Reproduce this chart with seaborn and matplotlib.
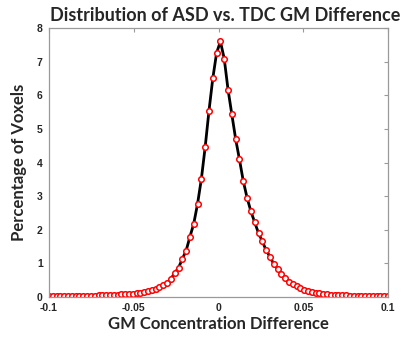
import numpy as np
import pandas as pd
import seaborn as sns
import matplotlib
matplotlib.use('Agg')
import matplotlib.pyplot as plt

#%% data: bin centres and percentage of voxels per bin
n_bins = 90
x_lo, x_hi = -0.1, 0.1
pct_left_tail = [0.02, 0.02, 0.02, 0.02, 0.02, 0.025, 0.025, 0.03, 0.03, 0.03,
                 0.035, 0.04, 0.04, 0.045, 0.05, 0.055, 0.06, 0.065, 0.07, 0.08,
                 0.085, 0.09, 0.10, 0.11, 0.13, 0.14, 0.17]
pct_rise = [0.20, 0.24, 0.29, 0.35, 0.42, 0.54, 0.71, 0.87, 1.13, 1.38,
            1.79, 2.18, 2.77, 3.51, 4.46, 5.54, 6.50, 7.26]
pct_fall = [7.60, 7.09, 6.17, 5.43, 4.70, 4.09, 3.45, 2.95, 2.55, 2.22,
            1.90, 1.66, 1.39, 1.20]
pct_right_tail = [0.98, 0.84, 0.69, 0.56, 0.46, 0.38, 0.32, 0.27, 0.22, 0.18,
                  0.15, 0.13, 0.11, 0.09, 0.08, 0.07, 0.06, 0.055, 0.05, 0.045,
                  0.04, 0.035, 0.03, 0.03, 0.025, 0.025, 0.02, 0.02, 0.02, 0.02,
                  0.02]

gm_diff = np.linspace(x_lo, x_hi, n_bins)
pct_voxels = pct_left_tail + pct_rise + pct_fall + pct_right_tail
df = pd.DataFrame({"gm_diff": gm_diff, "pct": pct_voxels})

#%% plot
sns.set_style("white")
plt.rcParams['font.family'] = ['Liberation Sans', 'DejaVu Sans']

fig = plt.figure(figsize=(4.03, 3.4), dpi=100)
ax = fig.add_axes([0.1216, 0.1265, 0.8412, 0.7911])

sns.lineplot(data=df, x="gm_diff", y="pct", ax=ax,
             color="black", linewidth=2,
             marker="o", markersize=4,
             markerfacecolor="white", markeredgecolor="red",
             markeredgewidth=1.1)

ax.set_xlim(-0.1, 0.1)
ax.set_ylim(0, 8)
ax.set_xticks([-0.1, -0.05, 0, 0.05, 0.1])
ax.set_xticklabels(["-0.1", "-0.05", "0", "0.05", "0.1"])
ax.set_yticks(range(0, 9))

for sp in ax.spines.values():
    sp.set_color("#9a9a9a")
    sp.set_linewidth(0.9)
ax.tick_params(direction="in", length=3, width=0.8, color="#9a9a9a",
               top=True, right=True, labelsize=7.5)
ax.tick_params(axis="x", pad=4.5)
ax.tick_params(axis="y", pad=4.5)
for lab in ax.get_xticklabels() + ax.get_yticklabels():
    lab.set_fontweight("bold")

ax.set_title("Distribution of ASD vs. TDC GM Difference",
             family=["Lato", "DejaVu Sans"], fontweight="bold",
             fontsize=13, pad=5, x=0.52)
ax.set_xlabel("GM Concentration Difference",
              family=["Lato", "DejaVu Sans"], fontweight="bold",
              fontsize=12, labelpad=2)
ax.set_ylabel("Percentage of Voxels",
              family=["Lato", "DejaVu Sans"], fontweight="bold",
              fontsize=12, labelpad=7)

fig.savefig("out.png", dpi=100)
